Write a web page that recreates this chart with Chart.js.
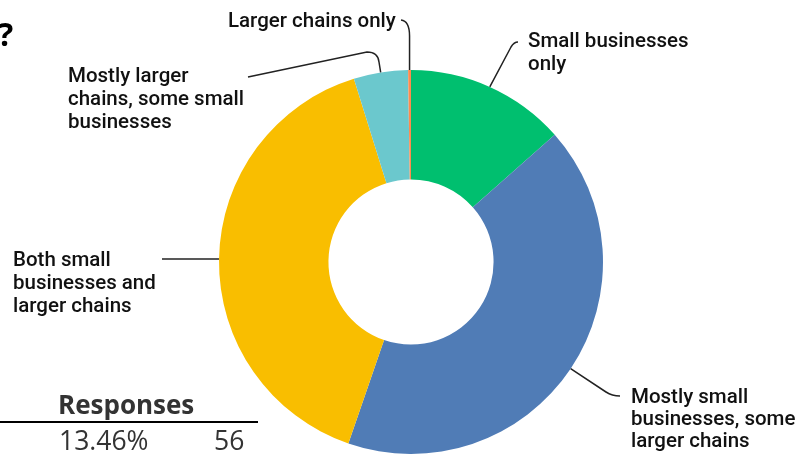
<!DOCTYPE html>
<html>
<head>
<meta charset="utf-8">
<script src="https://cdn.jsdelivr.net/npm/chart.js@4"></script>
<style>
  body { margin: 0; background: #fff; }
  #c { display: block; }
</style>
</head>
<body>
<canvas id="c" width="803" height="455"></canvas>
<script>
// answer choices and how many people picked each one
var categories = [
    'Small businesses only',
    'Mostly small businesses, some larger chains',
    'Both small businesses and larger chains',
    'Mostly larger chains, some small businesses',
    'Larger chains only'
];
var responses = [56, 174, 166, 19, 1];
var colors = ['#00BF6F', '#507CB6', '#F9BE00', '#6BC8CD', '#FF8B4F'];

// how the labels wrap on the picture
var labelLines = [
    ['Small businesses', 'only'],
    ['Mostly small', 'businesses, some', 'larger chains'],
    ['Both small', 'businesses and', 'larger chains'],
    ['Mostly larger', 'chains, some small', 'businesses'],
    ['Larger chains only']
];

// first row of the table under the chart (cut off in the picture)
var total = responses.reduce(function (a, b) { return a + b; }, 0);
var firstPct = (responses[0] / total * 100).toFixed(2) + '%';

/* label positions + leader lines */
var labelPos = [
    { x: 528, y: 47, lh: 23 },
    { x: 631, y: 403, lh: 22 },
    { x: 13, y: 266, lh: 23 },
    { x: 68, y: 82, lh: 23 },
    { x: 228, y: 27, lh: 23 }
];

function leader(ctx, i, p) {
    ctx.beginPath();
    ctx.moveTo(p.x, p.y);
    if (i == 0) {
        ctx.lineTo(511, 47);
        ctx.quadraticCurveTo(514, 42, 518, 42);
    } else if (i == 1) {
        ctx.lineTo(606, 392);
        ctx.quadraticCurveTo(612, 396, 620, 396);
    } else if (i == 2) {
        ctx.lineTo(162, p.y);
    } else if (i == 3) {
        ctx.lineTo(379, 62);
        ctx.quadraticCurveTo(378, 52, 367, 52);
        ctx.lineTo(248, 77);
    } else if (i == 4) {
        ctx.lineTo(p.x, 36);
        ctx.quadraticCurveTo(p.x, 21, 401, 20);
    }
    ctx.stroke();
}

var labelsPlugin = {
    id: 'labels',
    afterDraw: function (chart) {
        var ctx = chart.ctx;
        var arcs = chart.getDatasetMeta(0).data;
        ctx.save();
        ctx.strokeStyle = '#222';
        ctx.lineWidth = 1.5;
        ctx.fillStyle = '#111';
        ctx.font = '500 20.5px Roboto';
        ctx.textBaseline = 'alphabetic';
        for (var i = 0; i < arcs.length; i++) {
            var a = arcs[i];
            var mid = (a.startAngle + a.endAngle) / 2;
            var p = { x: a.x + Math.cos(mid) * a.outerRadius, y: a.y + Math.sin(mid) * a.outerRadius };
            leader(ctx, i, p);
            var lp = labelPos[i];
            for (var j = 0; j < labelLines[i].length; j++) {
                ctx.fillText(labelLines[i][j], lp.x, lp.y + j * lp.lh);
            }
        }

        // end of the question title
        ctx.fillStyle = '#000';
        ctx.font = 'bold 32px "Open Sans"';
        ctx.fillText('?', -2, 46);

        // table header + first row
        ctx.fillStyle = '#333';
        ctx.font = 'bold 26px "Open Sans"';
        ctx.fillText('Responses', 58, 414);
        ctx.fillStyle = '#000';
        ctx.fillRect(0, 421, 258, 2);
        ctx.fillStyle = '#333';
        ctx.font = '26.5px "Open Sans"';
        ctx.fillText(firstPct, 59, 450);
        ctx.fillText(String(responses[0]), 214, 450);
        ctx.restore();
    }
};

var chart = new Chart(document.getElementById('c'), {
    type: 'doughnut',
    data: {
        labels: categories,
        datasets: [{
            data: responses,
            backgroundColor: colors,
            borderWidth: 0
        }]
    },
    options: {
        responsive: false,
        animation: false,
        cutout: '43%',
        layout: { padding: { left: 219, right: 200, top: 70, bottom: 1 } },
        plugins: {
            legend: { display: false },
            tooltip: { enabled: false }
        }
    },
    plugins: [labelsPlugin]
});
</script>
</body>
</html>
